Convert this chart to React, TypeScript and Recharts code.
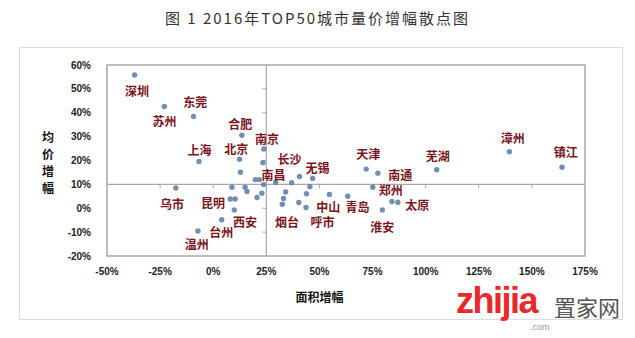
import React from 'react';
import {
  ScatterChart,
  Scatter,
  XAxis,
  YAxis,
  ReferenceLine,
  ReferenceArea,
  ReferenceDot,
} from 'recharts';

// 面积增幅 (x) / 均价增幅 (y), in %
const cityPoints = [
  { x: -37, y: 55.8 },
  { x: -23, y: 42.6 },
  { x: -9.3, y: 38.4 },
  { x: -6.7, y: 19.6 },
  { x: 13.5, y: 30.6 },
  { x: 12.4, y: 20.5 },
  { x: 12.8, y: 15.1 },
  { x: 23.8, y: 24.8 },
  { x: 23.4, y: 19.1 },
  { x: -17.6, y: 8.5 },
  { x: 8.8, y: 8.8 },
  { x: 8, y: 3.9 },
  { x: 10.3, y: 3.9 },
  { x: 9.9, y: -0.7 },
  { x: 15, y: 8.8 },
  { x: 15.9, y: 7 },
  { x: 19.8, y: 12 },
  { x: 21.8, y: 12 },
  { x: 23.7, y: 9.9 },
  { x: 22.9, y: 6.3 },
  { x: 20.6, y: 4.5 },
  { x: 4, y: -4.8 },
  { x: -7.2, y: -9.5 },
  { x: 29.4, y: 10.8 },
  { x: 34.1, y: 6.8 },
  { x: 36.9, y: 10.7 },
  { x: 40.6, y: 13.3 },
  { x: 33.1, y: 4.1 },
  { x: 32.5, y: 1.7 },
  { x: 40.3, y: 2.4 },
  { x: 43.9, y: 6.1 },
  { x: 43.7, y: 0.3 },
  { x: 46.8, y: 12.5 },
  { x: 45.5, y: 9 },
  { x: 54.7, y: 5.8 },
  { x: 63.3, y: 5 },
  { x: 72, y: 16.4 },
  { x: 77.5, y: 14.7 },
  { x: 75.1, y: 8.8 },
  { x: 84.1, y: 2.8 },
  { x: 86.9, y: 2.5 },
  { x: 79.6, y: -0.7 },
  { x: 105.2, y: 16.1 },
  { x: 139.4, y: 23.7 },
  { x: 164.2, y: 17.2 },
];

// city name labels, placed in chart units
const cityLabels = [
  { name: '深圳', x: -35.9, y: 49.2 },
  { name: '苏州', x: -22.9, y: 36.7 },
  { name: '东莞', x: -8.5, y: 44.6 },
  { name: '上海', x: -6.4, y: 24.4 },
  { name: '合肥', x: 12.7, y: 35.3 },
  { name: '北京', x: 10.8, y: 25 },
  { name: '南京', x: 25.3, y: 29.3 },
  { name: '南昌', x: 28.4, y: 14.3 },
  { name: '长沙', x: 35.9, y: 21 },
  { name: '无锡', x: 49.1, y: 17.2 },
  { name: '天津', x: 73, y: 23.1 },
  { name: '南通', x: 88, y: 14.3 },
  { name: '郑州', x: 83.6, y: 8 },
  { name: '太原', x: 96.1, y: 1.4 },
  { name: '淮安', x: 79.6, y: -7.7 },
  { name: '中山', x: 54.2, y: 0.7 },
  { name: '青岛', x: 67.9, y: 0.7 },
  { name: '烟台', x: 34.7, y: -5.6 },
  { name: '呼市', x: 51.4, y: -5.6 },
  { name: '芜湖', x: 105.7, y: 21.9 },
  { name: '乌市', x: -19.4, y: 2.1 },
  { name: '昆明', x: -0.1, y: 2.4 },
  { name: '西安', x: 15, y: -5.6 },
  { name: '台州', x: 3.8, y: -9.7 },
  { name: '温州', x: -7.7, y: -14.6 },
  { name: '漳州', x: 141, y: 29.7 },
  { name: '镇江', x: 166, y: 23.7 },
];

const xTicks = [-50, -25, 0, 25, 50, 75, 100, 125, 150, 175];
const yTicks = [-20, -10, 0, 10, 20, 30, 40, 50, 60];
const xCross = 25;
const yCross = 10;

const TITLE = '图 1 2016年TOP50城市量价增幅散点图';
const X_TITLE = '面积增幅';
const Y_TITLE = '均价增幅';

const tickFont = { fontSize: 10, fontWeight: 700, fill: '#222', fontFamily: 'Liberation Sans, Arial' };
const pct = (v: number) => `${v}%`;

export default function App() {
  return (
    <div style={{ position: 'absolute', left: 0, top: 0, width: 635, height: 338, background: '#fff', overflow: 'hidden' }}>
      {/* 标题 */}
      <div
        style={{
          position: 'absolute', left: 0, top: 7, width: 635, textAlign: 'center',
          fontFamily: 'Noto Sans CJK SC', fontSize: 15, color: '#333', letterSpacing: 2,
        }}
      >
        {TITLE}
      </div>
      {/* 外框 */}
      <div style={{ position: 'absolute', left: 19, top: 47, width: 604, height: 273, border: '1px solid #ddd', boxSizing: 'border-box' }} />

      <div style={{ position: 'absolute', left: 0, top: 0 }}>
        <ScatterChart width={635} height={338} margin={{ top: 65, right: 50, bottom: 52, left: 46 }}>
          <XAxis
            type="number"
            dataKey="x"
            domain={[-50, 175]}
            ticks={xTicks}
            tickFormatter={pct}
            axisLine={false}
            tickLine={false}
            tick={tickFont}
            tickMargin={6}
            height={30}
            allowDataOverflow
          />
          <YAxis
            type="number"
            dataKey="y"
            domain={[-20, 60]}
            ticks={yTicks}
            tickFormatter={pct}
            axisLine={false}
            tickLine={false}
            tick={tickFont}
            tickMargin={10}
            width={61}
            allowDataOverflow
          />
          <ReferenceArea x1={-50} x2={175} y1={-20} y2={60} fill="none" stroke="#a8a8a8" strokeWidth={1.5} />
          <ReferenceLine x={xCross} stroke="#a8a8a8" strokeWidth={1.2} />
          <ReferenceLine y={yCross} stroke="#a8a8a8" strokeWidth={1.2} />
          {xTicks.slice(1, -1).map(t => (
            <ReferenceDot
              key={`xt${t}`}
              x={t}
              y={yCross}
              shape={(p: any) => <line x1={p.cx} y1={p.cy} x2={p.cx} y2={p.cy + 4} stroke="#a8a8a8" />}
            />
          ))}
          {yTicks.slice(1, -1).map(t => (
            <ReferenceDot
              key={`yt${t}`}
              x={xCross}
              y={t}
              shape={(p: any) => <line x1={p.cx - 4} y1={p.cy} x2={p.cx} y2={p.cy} stroke="#a8a8a8" />}
            />
          ))}
          <Scatter
            data={cityPoints}
            isAnimationActive={false}
            shape={(p: any) => <circle cx={p.cx} cy={p.cy} r={2.7} fill="#6284a8" fillOpacity={0.9} />}
          />
          <Scatter
            data={cityLabels}
            isAnimationActive={false}
            shape={(p: any) => (
              <text
                x={p.cx}
                y={p.cy}
                textAnchor="middle"
                dominantBaseline="central"
                fontSize={12}
                fontWeight={700}
                fill="#7a1421"
                fontFamily="Noto Sans CJK SC"
              >
                {p.payload.name}
              </text>
            )}
          />
        </ScatterChart>
      </div>

      {/* 轴标题 */}
      <div
        style={{
          position: 'absolute', left: 41, top: 128, width: 14, fontSize: 12, lineHeight: '17px',
          fontWeight: 700, fontFamily: 'Noto Sans CJK SC', color: '#111', textAlign: 'center',
        }}
      >
        {Y_TITLE.split('').map((c, i) => <div key={i}>{c}</div>)}
      </div>
      <div
        style={{
          position: 'absolute', left: 0, top: 288, width: 635, textAlign: 'center', fontSize: 12,
          fontWeight: 700, fontFamily: 'Noto Sans CJK SC', color: '#111', paddingLeft: 2,
        }}
      >
        {X_TITLE}
      </div>

      {/* 水印 */}
      <div style={{ position: 'absolute', left: 456, top: 283, fontFamily: 'Liberation Sans, Arial', fontWeight: 700, fontSize: 36, color: '#e8282d', letterSpacing: -1.5, lineHeight: '36px' }}>
        zhijia
      </div>
      <div style={{ position: 'absolute', left: 530, top: 322, fontFamily: 'Liberation Sans, Arial', fontSize: 9, color: '#999', lineHeight: '10px' }}>
        .com
      </div>
      <div style={{ position: 'absolute', left: 554, top: 292, fontFamily: 'Noto Sans CJK SC', fontSize: 22, color: '#555', lineHeight: '28px' }}>
        置家网
      </div>
    </div>
  );
}
